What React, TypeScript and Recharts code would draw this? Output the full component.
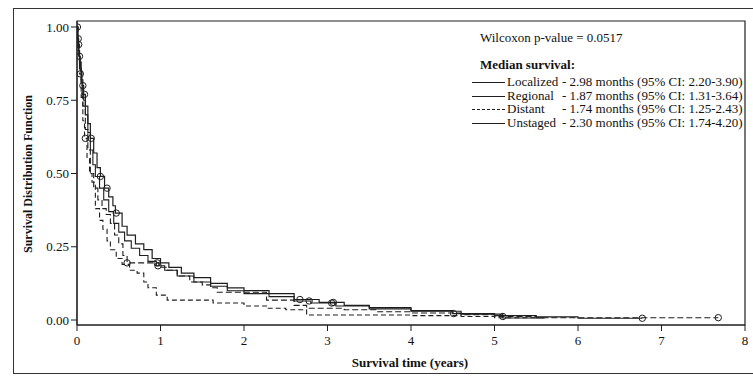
import { ComposedChart, Line, Scatter, XAxis, YAxis, ReferenceArea } from "recharts";

// Kaplan-Meier step points (t in years, S = survival)
const localizedT = [0, 0.01, 0.02, 0.03, 0.05, 0.07, 0.1, 0.13, 0.16, 0.2, 0.24, 0.28, 0.33, 0.38, 0.43, 0.46, 0.54, 0.6, 0.7, 0.8, 0.9, 1.0, 1.1, 1.25, 1.4, 1.6, 1.8, 2.0, 2.3, 2.6, 2.9, 3.2, 3.5, 4.0, 4.5, 5.0, 5.5, 6.0, 6.77];
const localizedS = [1, 0.96, 0.92, 0.88, 0.82, 0.77, 0.73, 0.67, 0.62, 0.57, 0.52, 0.49, 0.45, 0.42, 0.39, 0.365, 0.32, 0.29, 0.26, 0.24, 0.21, 0.195, 0.18, 0.16, 0.145, 0.125, 0.11, 0.1, 0.09, 0.07, 0.06, 0.05, 0.042, 0.032, 0.022, 0.015, 0.011, 0.006, 0.006];

const regionalT = [0, 0.01, 0.03, 0.05, 0.07, 0.1, 0.13, 0.16, 0.2, 0.25, 0.3, 0.35, 0.4, 0.45, 0.5, 0.55, 0.6, 0.98, 1.08, 1.2, 1.35, 1.5, 1.6, 1.68, 2.27, 2.6, 2.75, 3.2, 3.6, 4.0, 4.6, 5.0, 5.5, 7.68];
const regionalS = [1, 0.94, 0.87, 0.8, 0.73, 0.65, 0.58, 0.5, 0.45, 0.41, 0.38, 0.36, 0.33, 0.29, 0.26, 0.22, 0.195, 0.18, 0.17, 0.15, 0.13, 0.12, 0.11, 0.095, 0.068, 0.05, 0.04, 0.035, 0.028, 0.024, 0.018, 0.012, 0.008, 0.008];

const distantT = [0, 0.01, 0.03, 0.05, 0.07, 0.09, 0.12, 0.15, 0.18, 0.22, 0.27, 0.31, 0.36, 0.4, 0.47, 0.54, 0.63, 0.72, 0.8, 0.85, 0.95, 1.08, 1.63, 2.0, 2.27, 2.5, 2.75, 3.5, 4.0, 4.6, 5.0, 5.6];
const distantS = [1, 0.92, 0.84, 0.76, 0.68, 0.62, 0.55, 0.5, 0.47, 0.38, 0.34, 0.31, 0.27, 0.24, 0.21, 0.19, 0.17, 0.16, 0.13, 0.11, 0.085, 0.068, 0.058, 0.048, 0.04, 0.035, 0.017, 0.017, 0.015, 0.012, 0.008, 0.008];

const unstagedT = [0, 0.01, 0.02, 0.04, 0.06, 0.08, 0.1, 0.13, 0.16, 0.19, 0.22, 0.27, 0.32, 0.38, 0.44, 0.5, 0.57, 0.65, 0.75, 0.85, 0.95, 1.05, 1.2, 1.4, 1.6, 1.8, 2.0, 2.3, 2.6, 2.8, 3.1, 3.5, 4.0, 4.6, 5.1, 5.6];
const unstagedS = [1, 0.95, 0.9, 0.85, 0.8, 0.75, 0.7, 0.64, 0.58, 0.53, 0.49, 0.45, 0.41, 0.37, 0.33, 0.3, 0.27, 0.245, 0.22, 0.2, 0.185, 0.17, 0.15, 0.13, 0.115, 0.1, 0.09, 0.08, 0.065, 0.058, 0.048, 0.038, 0.03, 0.02, 0.007, 0.007];

// censored observations (circles)
const localizedCensT = [0.015, 0.09, 0.17, 0.28, 0.36, 0.47, 2.67, 3.07, 4.51, 6.77];
const localizedCensS = [0.96, 0.77, 0.62, 0.49, 0.45, 0.365, 0.07, 0.06, 0.022, 0.006];
const regionalCensT = [0.02, 0.6, 0.96, 5.1, 7.68];
const regionalCensS = [0.94, 0.195, 0.195, 0.012, 0.008];
const distantCensT = [0.04, 0.1];
const distantCensS = [0.84, 0.62];
const unstagedCensT = [0.005, 0.03, 0.07, 0.97, 2.78, 3.05];
const unstagedCensS = [1, 0.9, 0.8, 0.185, 0.065, 0.058];

const xTicks = [0, 1, 2, 3, 4, 5, 6, 7, 8];
const yTicks = [0, 0.25, 0.5, 0.75, 1];

const legendRows = [
  { name: "Localized", text: "- 2.98 months (95% CI: 2.20-3.90)", dash: "" },
  { name: "Regional", text: "- 1.87 months (95% CI: 1.31-3.64)", dash: "" },
  { name: "Distant", text: "- 1.74 months (95% CI: 1.25-2.43)", dash: "3 2" },
  { name: "Unstaged", text: "- 2.30 months (95% CI: 1.74-4.20)", dash: "" },
];

const rows = (t: number[], s: number[]) => t.map((v, i) => ({ t: v, s: s[i] }));

const Y_MIN = -0.017;
const Y_MAX = 1.0205;
const INK = "#1e1e1e";
const FONT = "'Liberation Serif', 'Times New Roman', serif";

const circle = (p: any) => (
  <circle cx={p.cx} cy={p.cy} r={3.2} fill="none" stroke={INK} strokeWidth={1} />
);

export default function App() {
  const tick = { fontSize: 13, fill: "#111", fontFamily: FONT };
  return (
    <div style={{ position: "fixed", left: 0, top: 0, width: 753, height: 382, fontFamily: FONT, color: "#111", overflow: "hidden", background: "#fff" }}>
      <ComposedChart width={753} height={382} margin={{ top: 21, right: 8, bottom: 27, left: 0 }}>
        <XAxis
          type="number"
          dataKey="t"
          domain={[0, 8]}
          ticks={xTicks}
          tick={tick}
          tickSize={6}
          tickMargin={5}
          height={30}
          stroke={INK}
          allowDataOverflow
        />
        <YAxis
          type="number"
          domain={[Y_MIN, Y_MAX]}
          ticks={yTicks}
          tick={tick}
          tickSize={6}
          tickMargin={2}
          width={77}
          stroke={INK}
          tickFormatter={(v: number) => v.toFixed(2)}
          allowDataOverflow
        />
        <ReferenceArea x1={0} x2={8} y1={Y_MIN} y2={Y_MAX} fill="none" stroke={INK} strokeWidth={1.2} ifOverflow="visible" />
        <Line data={rows(localizedT, localizedS)} dataKey="s" type="stepAfter" stroke={INK} strokeWidth={1.2} dot={false} isAnimationActive={false} />
        <Line data={rows(unstagedT, unstagedS)} dataKey="s" type="stepAfter" stroke={INK} strokeWidth={1.1} dot={false} isAnimationActive={false} />
        <Line data={rows(regionalT, regionalS)} dataKey="s" type="stepAfter" stroke={INK} strokeWidth={1.1} strokeDasharray="6 3" dot={false} isAnimationActive={false} />
        <Line data={rows(distantT, distantS)} dataKey="s" type="stepAfter" stroke={INK} strokeWidth={1.1} strokeDasharray="5 3" dot={false} isAnimationActive={false} />
        <Scatter data={rows(localizedCensT, localizedCensS)} dataKey="s" shape={circle} isAnimationActive={false} />
        <Scatter data={rows(regionalCensT, regionalCensS)} dataKey="s" shape={circle} isAnimationActive={false} />
        <Scatter data={rows(distantCensT, distantCensS)} dataKey="s" shape={circle} isAnimationActive={false} />
        <Scatter data={rows(unstagedCensT, unstagedCensS)} dataKey="s" shape={circle} isAnimationActive={false} />
      </ComposedChart>

      <div style={{ position: "absolute", left: 13, top: 8, width: 760, height: 364, border: "1px solid #333", pointerEvents: "none" }} />

      <div style={{ position: "absolute", left: 28, top: 174, transform: "translate(-50%, -50%) rotate(-90deg)", whiteSpace: "nowrap", fontWeight: "bold", fontSize: 12 }}>
        Survival Distribution Function
      </div>
      <div style={{ position: "absolute", left: 410, top: 363, transform: "translate(-50%, -50%)", whiteSpace: "nowrap", fontWeight: "bold", fontSize: 13 }}>
        Survival time (years)
      </div>

      <div style={{ position: "absolute", left: 480, top: 30, fontSize: 13, lineHeight: "16px", whiteSpace: "nowrap" }}>
        Wilcoxon p-value = 0.0517
      </div>
      <div style={{ position: "absolute", left: 480, top: 57, fontSize: 13, lineHeight: "16px", fontWeight: "bold", whiteSpace: "nowrap" }}>
        Median survival:
      </div>
      {legendRows.map((r, i) => (
        <div key={r.name} style={{ position: "absolute", left: 472, top: 74 + i * 13.7, height: 16, fontSize: 13, lineHeight: "16px", whiteSpace: "nowrap" }}>
          <svg width={34} height={16} style={{ position: "absolute", left: 0, top: 0 }}>
            <line x1={0} x2={33} y1={8.5} y2={8.5} stroke={INK} strokeWidth={1} strokeDasharray={r.dash || undefined} />
          </svg>
          <span style={{ position: "absolute", left: 35 }}>{r.name}</span>
          <span style={{ position: "absolute", left: 90 }}>{r.text}</span>
        </div>
      ))}
    </div>
  );
}
